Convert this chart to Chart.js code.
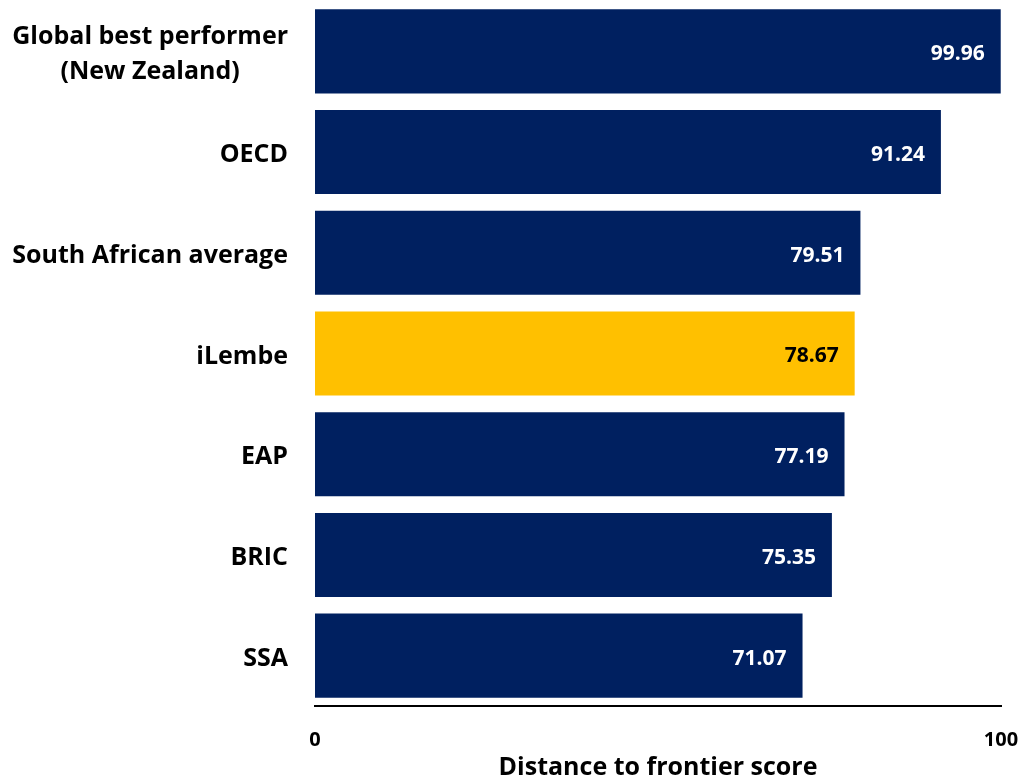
<!DOCTYPE html>
<html>
<head>
<meta charset="utf-8">
<title>Distance to frontier score</title>
<script src="https://cdn.jsdelivr.net/npm/chart.js@4"></script>
<style>
  html, body { margin: 0; padding: 0; background: #ffffff; }
  #wrap { width: 1021px; height: 778px; }
</style>
</head>
<body>
<div id="wrap"><canvas id="dtf-chart"></canvas></div>
<script>
(function() {
    'use strict';

    // Data
    const categories = [
        ['Global best performer', '(New Zealand)'],
        'OECD',
        'South African average',
        'iLembe',
        'EAP',
        'BRIC',
        'SSA'
    ];
    const scores = [99.96, 91.24, 79.51, 78.67, 77.19, 75.35, 71.07];
    const highlightIndex = 3;
    const axisTicks = [0, 100];

    const NAVY = '#002060';
    const GOLD = '#FFC000';
    const FONT = "'Open Sans', 'DejaVu Sans', sans-serif";

    const barColors = scores.map((v, i) => i === highlightIndex ? GOLD : NAVY);
    const labelColors = scores.map((v, i) => i === highlightIndex ? '#000000' : '#ffffff');

    // Category names drawn left of the bars, multi-line names centred on themselves
    const categoryLabels = {
        id: 'categoryLabels',
        afterDraw(chart) {
            const ctx = chart.ctx;
            const yScale = chart.scales.y;
            const right = chart.chartArea.left - 27;
            ctx.save();
            ctx.font = 'bold 25px ' + FONT;
            ctx.fillStyle = '#000000';
            ctx.textBaseline = 'middle';
            ctx.textAlign = 'center';
            categories.forEach((cat, i) => {
                const lines = Array.isArray(cat) ? cat : [cat];
                const widest = Math.max(...lines.map(l => ctx.measureText(l).width));
                const cx = right - widest / 2;
                const cy = yScale.getPixelForValue(i) + 3;
                const lh = 35;
                lines.forEach((line, j) => {
                    ctx.fillText(line, cx, cy + (j - (lines.length - 1) / 2) * lh);
                });
            });
            ctx.restore();
        }
    };

    // Value labels inside the end of each bar
    const valueLabels = {
        id: 'valueLabels',
        afterDatasetsDraw(chart) {
            const ctx = chart.ctx;
            const meta = chart.getDatasetMeta(0);
            ctx.save();
            ctx.font = 'bold 21px ' + FONT;
            ctx.textAlign = 'right';
            ctx.textBaseline = 'middle';
            meta.data.forEach((bar, i) => {
                ctx.fillStyle = labelColors[i];
                ctx.fillText(scores[i].toFixed(2), bar.x - 16, bar.y + 3);
            });
            ctx.restore();
        }
    };

    const ctx = document.getElementById('dtf-chart').getContext('2d');

    new Chart(ctx, {
        type: 'bar',
        data: {
            labels: categories.map(c => Array.isArray(c) ? c.join(' ') : c),
            datasets: [{
                data: scores,
                backgroundColor: barColors,
                borderWidth: 0,
                categoryPercentage: 1.0,
                barPercentage: 0.835
            }]
        },
        options: {
            indexAxis: 'y',
            responsive: true,
            maintainAspectRatio: false,
            animation: false,
            layout: { padding: { top: 1, right: 0, bottom: 0, left: 0 } },
            plugins: {
                legend: { display: false },
                tooltip: { enabled: false }
            },
            scales: {
                x: {
                    min: 0,
                    max: 100,
                    afterBuildTicks(scale) {
                        scale.ticks = axisTicks.map(v => ({ value: v }));
                    },
                    afterFit(scale) {
                        scale.height = 72;
                        scale.paddingRight = 20;
                    },
                    grid: { display: false, drawTicks: false },
                    border: { display: true, color: '#000000', width: 2 },
                    ticks: {
                        color: '#000000',
                        padding: 22,
                        maxRotation: 0,
                        font: { family: FONT, size: 20, weight: 'bold' }
                    },
                    title: {
                        display: true,
                        text: 'Distance to frontier score',
                        color: '#000000',
                        padding: { top: 0, bottom: 0 },
                        font: { family: FONT, size: 25, weight: 'bold', lineHeight: 0.85 }
                    }
                },
                y: {
                    afterFit(scale) {
                        scale.width = 315;
                    },
                    grid: { display: false, drawTicks: false },
                    border: { display: false },
                    ticks: { display: false }
                }
            }
        },
        plugins: [categoryLabels, valueLabels]
    });
})();
</script>
</body>
</html>
